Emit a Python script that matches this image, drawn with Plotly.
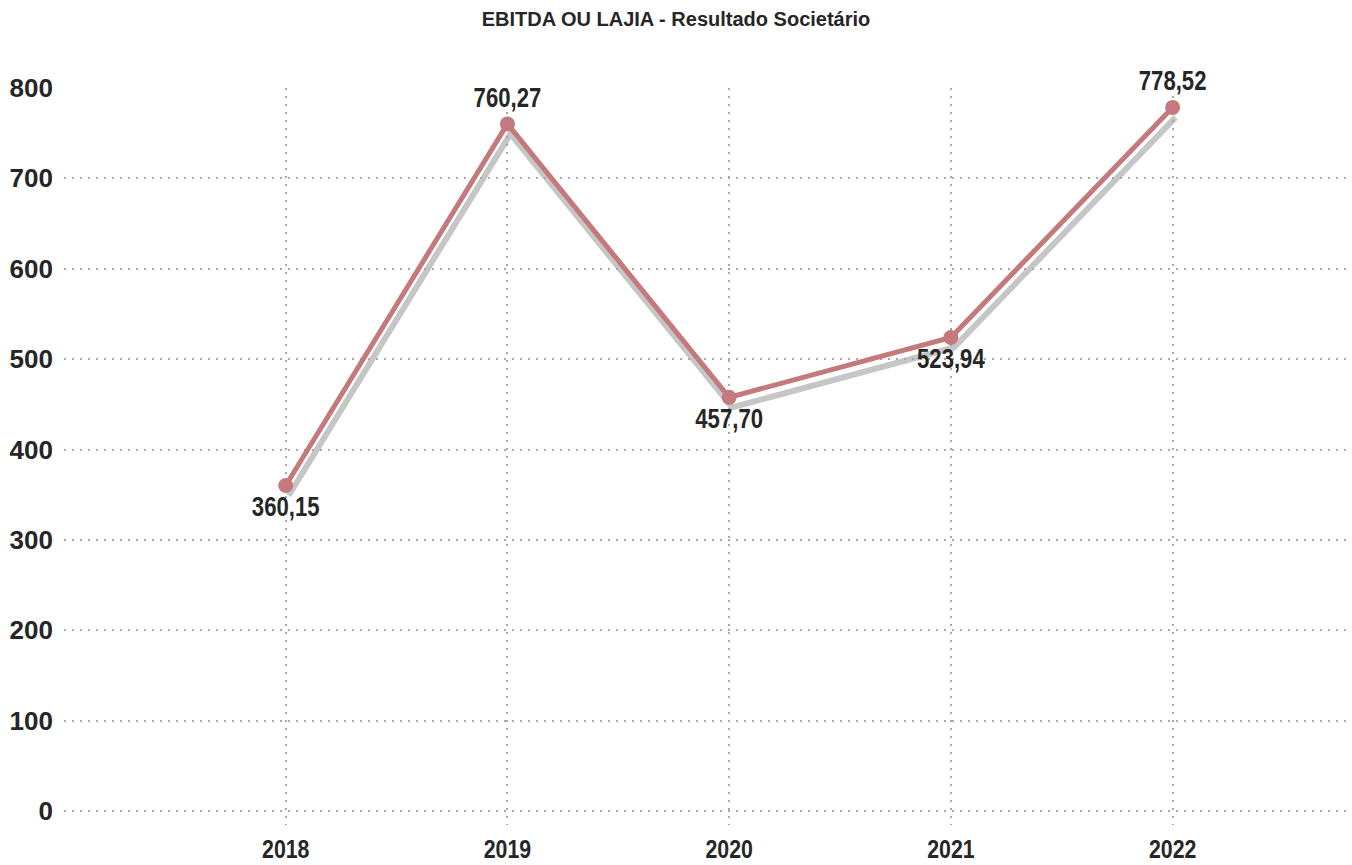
import plotly.graph_objects as go

# Data
years = ["2018", "2019", "2020", "2021", "2022"]
ebitda = [360.15, 760.27, 457.70, 523.94, 778.52]
labels = ["360,15", "760,27", "457,70", "523,94", "778,52"]
label_pos = ["bottom center", "top center", "bottom center", "bottom center", "top center"]
y_ticks = [0, 100, 200, 300, 400, 500, 600, 700, 800]

W, H = 1352, 865
M_L, M_R, M_T, M_B = 64, 2, 88, 40
X_RANGE = [-1.0, 4.8]
Y_RANGE = [-15.5, 800.0]

# pixel offset of the drop shadow under the line
SHADOW_DX, SHADOW_DY = 3, 10
px_per_x = (W - M_L - M_R) / (X_RANGE[1] - X_RANGE[0])
px_per_y = (H - M_T - M_B) / (Y_RANGE[1] - Y_RANGE[0])
sx = SHADOW_DX / px_per_x
sy = SHADOW_DY / px_per_y

LINE_COLOR = "#c47a7d"
SHADOW_COLOR = "#c6c6c6"
TEXT_COLOR = "#262626"
GRID_COLOR = "#a8a8a8"
ARIAL = "Liberation Sans, Arial, sans-serif"

x_idx = list(range(len(years)))

fig = go.Figure()

# shadow line on a slightly shifted copy of the axes
fig.add_trace(go.Scatter(
    x=x_idx, y=ebitda, mode="lines",
    line=dict(color=SHADOW_COLOR, width=6),
    xaxis="x", yaxis="y", hoverinfo="skip", showlegend=False,
))

# main series
fig.add_trace(go.Scatter(
    x=x_idx, y=ebitda, mode="lines+markers+text",
    line=dict(color=LINE_COLOR, width=5),
    marker=dict(color=LINE_COLOR, size=15),
    text=labels, textposition=label_pos,
    textfont=dict(family=ARIAL, size=27, color=TEXT_COLOR, weight="bold"),
    cliponaxis=False,
    xaxis="x2", yaxis="y2", showlegend=False,
))

grid = dict(showgrid=True, gridcolor=GRID_COLOR, gridwidth=2, griddash="2px,6px",
            zeroline=False, showline=False, ticks="")

fig.update_layout(
    width=W, height=H,
    margin=dict(l=M_L, r=M_R, t=M_T, b=M_B),
    paper_bgcolor="white", plot_bgcolor="rgba(0,0,0,0)",
    title=dict(text="<b>EBITDA OU LAJIA - Resultado Societário</b>",
               x=0.5, xanchor="center", y=0.978, yanchor="middle",
               font=dict(family=ARIAL, size=20, color=TEXT_COLOR)),
    xaxis=dict(domain=[0, 1], range=[X_RANGE[0] - sx, X_RANGE[1] - sx],
               visible=False, anchor="y"),
    yaxis=dict(domain=[0, 1], range=[Y_RANGE[0] + sy, Y_RANGE[1] + sy],
               visible=False, anchor="x"),
    xaxis2=dict(domain=[0, 1], range=X_RANGE, anchor="y2",
                tickmode="array", tickvals=x_idx, ticktext=years,
                tickfont=dict(family=ARIAL, size=26, color=TEXT_COLOR, weight="bold"),
                ticklabelstandoff=6, **grid),
    yaxis2=dict(domain=[0, 1], range=Y_RANGE, anchor="x2",
                tickmode="array", tickvals=y_ticks, ticktext=[str(v) for v in y_ticks],
                tickfont=dict(family=ARIAL, size=26, color=TEXT_COLOR, weight="bold"),
                ticklabelstandoff=10, **grid),
)

# narrow the value labels and year labels horizontally (condensed lettering)
squeeze_js = """
var gd = document.getElementById('{plot_id}');
function squeezeText() {
  gd.querySelectorAll('g.textpoint text, g.x2tick text').forEach(function (t) {
    if (t.getAttribute('data-sq')) return;
    var w = t.getComputedTextLength();
    t.setAttribute('textLength', (w * 0.82).toFixed(1));
    t.setAttribute('lengthAdjust', 'spacingAndGlyphs');
    t.setAttribute('data-sq', '1');
  });
}
squeezeText();
gd.on('plotly_afterplot', squeezeText);
"""

fig.write_html("out.html", post_script=squeeze_js)
